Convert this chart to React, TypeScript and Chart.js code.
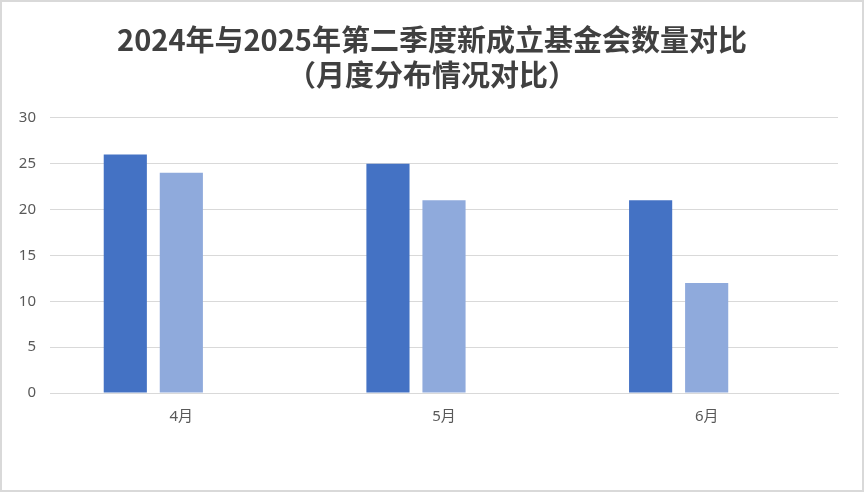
import React, { useEffect, useRef } from "react";
import { Chart, registerables } from "chart.js";

Chart.register(...registerables);

const categories = ["4月", "5月", "6月"];
const series2024 = [26, 25, 21];
const series2025 = [24, 21, 12];
const seriesEmpty: (number | null)[] = [null, null, null];
const yTicks = [0, 5, 10, 15, 20, 25, 30];
const titleLines = ["2024年与2025年第二季度新成立基金会数量对比", "（月度分布情况对比）"];

const centerTitlePlugin = {
  id: "centerTitle",
  afterLayout(chart: any) {
    const t = chart.titleBlock;
    if (t) {
      t.left = 0;
      t.right = chart.width;
      t.width = chart.width;
    }
  },
};

export default function App() {
  const ref = useRef<HTMLCanvasElement | null>(null);

  useEffect(() => {
    document.body.style.margin = "0";
    if (!ref.current) return;
    const chart = new Chart(ref.current, {
      type: "bar",
      data: {
        labels: categories,
        datasets: [
          { label: "2024年", data: series2024, backgroundColor: "#4472C4" },
          { label: "2025年", data: series2025, backgroundColor: "#8FAADC" },
          { label: "", data: seriesEmpty, backgroundColor: "#A5A5A5" },
        ],
      },
      plugins: [centerTitlePlugin],
      options: {
        animation: false,
        responsive: true,
        maintainAspectRatio: false,
        layout: { padding: { left: 10, right: 26, top: 0, bottom: 0 } },
        datasets: {
          bar: { categoryPercentage: 0.64, barPercentage: 0.77 },
        },
        plugins: {
          legend: { display: false },
          tooltip: { enabled: false },
          title: {
            display: true,
            text: titleLines,
            color: "#404040",
            font: { family: "'Noto Sans CJK SC', 'Noto Sans'", size: 29, weight: "bold", lineHeight: 1.22 },
            padding: { top: 22, bottom: 25 },
          },
        },
        scales: {
          x: {
            grid: { display: false, drawTicks: false },
            border: { display: true, color: "#D9D9D9", width: 1 },
            ticks: {
              color: "#595959",
              font: { family: "'Noto Sans', 'Noto Sans CJK SC'", size: 15 },
              padding: 15,
            },
            afterFit: (scale: any) => {
              scale.height = 99;
            },
          },
          y: {
            min: 0,
            max: 30,
            afterBuildTicks: (scale: any) => {
              scale.ticks = yTicks.map((v) => ({ value: v }));
            },
            grid: { color: "#D9D9D9", lineWidth: 1, drawTicks: false },
            border: { display: false },
            ticks: {
              color: "#595959",
              font: { family: "'Noto Sans', 'Noto Sans CJK SC'", size: 15 },
              padding: 14,
            },
            afterFit: (scale: any) => {
              scale.width = 40;
            },
          },
        },
      },
    });
    return () => chart.destroy();
  }, []);

  return (
    <div style={{ position: "fixed", left: 0, top: 0, width: 864, height: 492, background: "#fff" }}>
      <canvas ref={ref} />
      <div
        style={{
          position: "absolute",
          inset: 0,
          border: "2px solid #D9D9D9",
          boxSizing: "border-box",
          pointerEvents: "none",
        }}
      />
    </div>
  );
}
